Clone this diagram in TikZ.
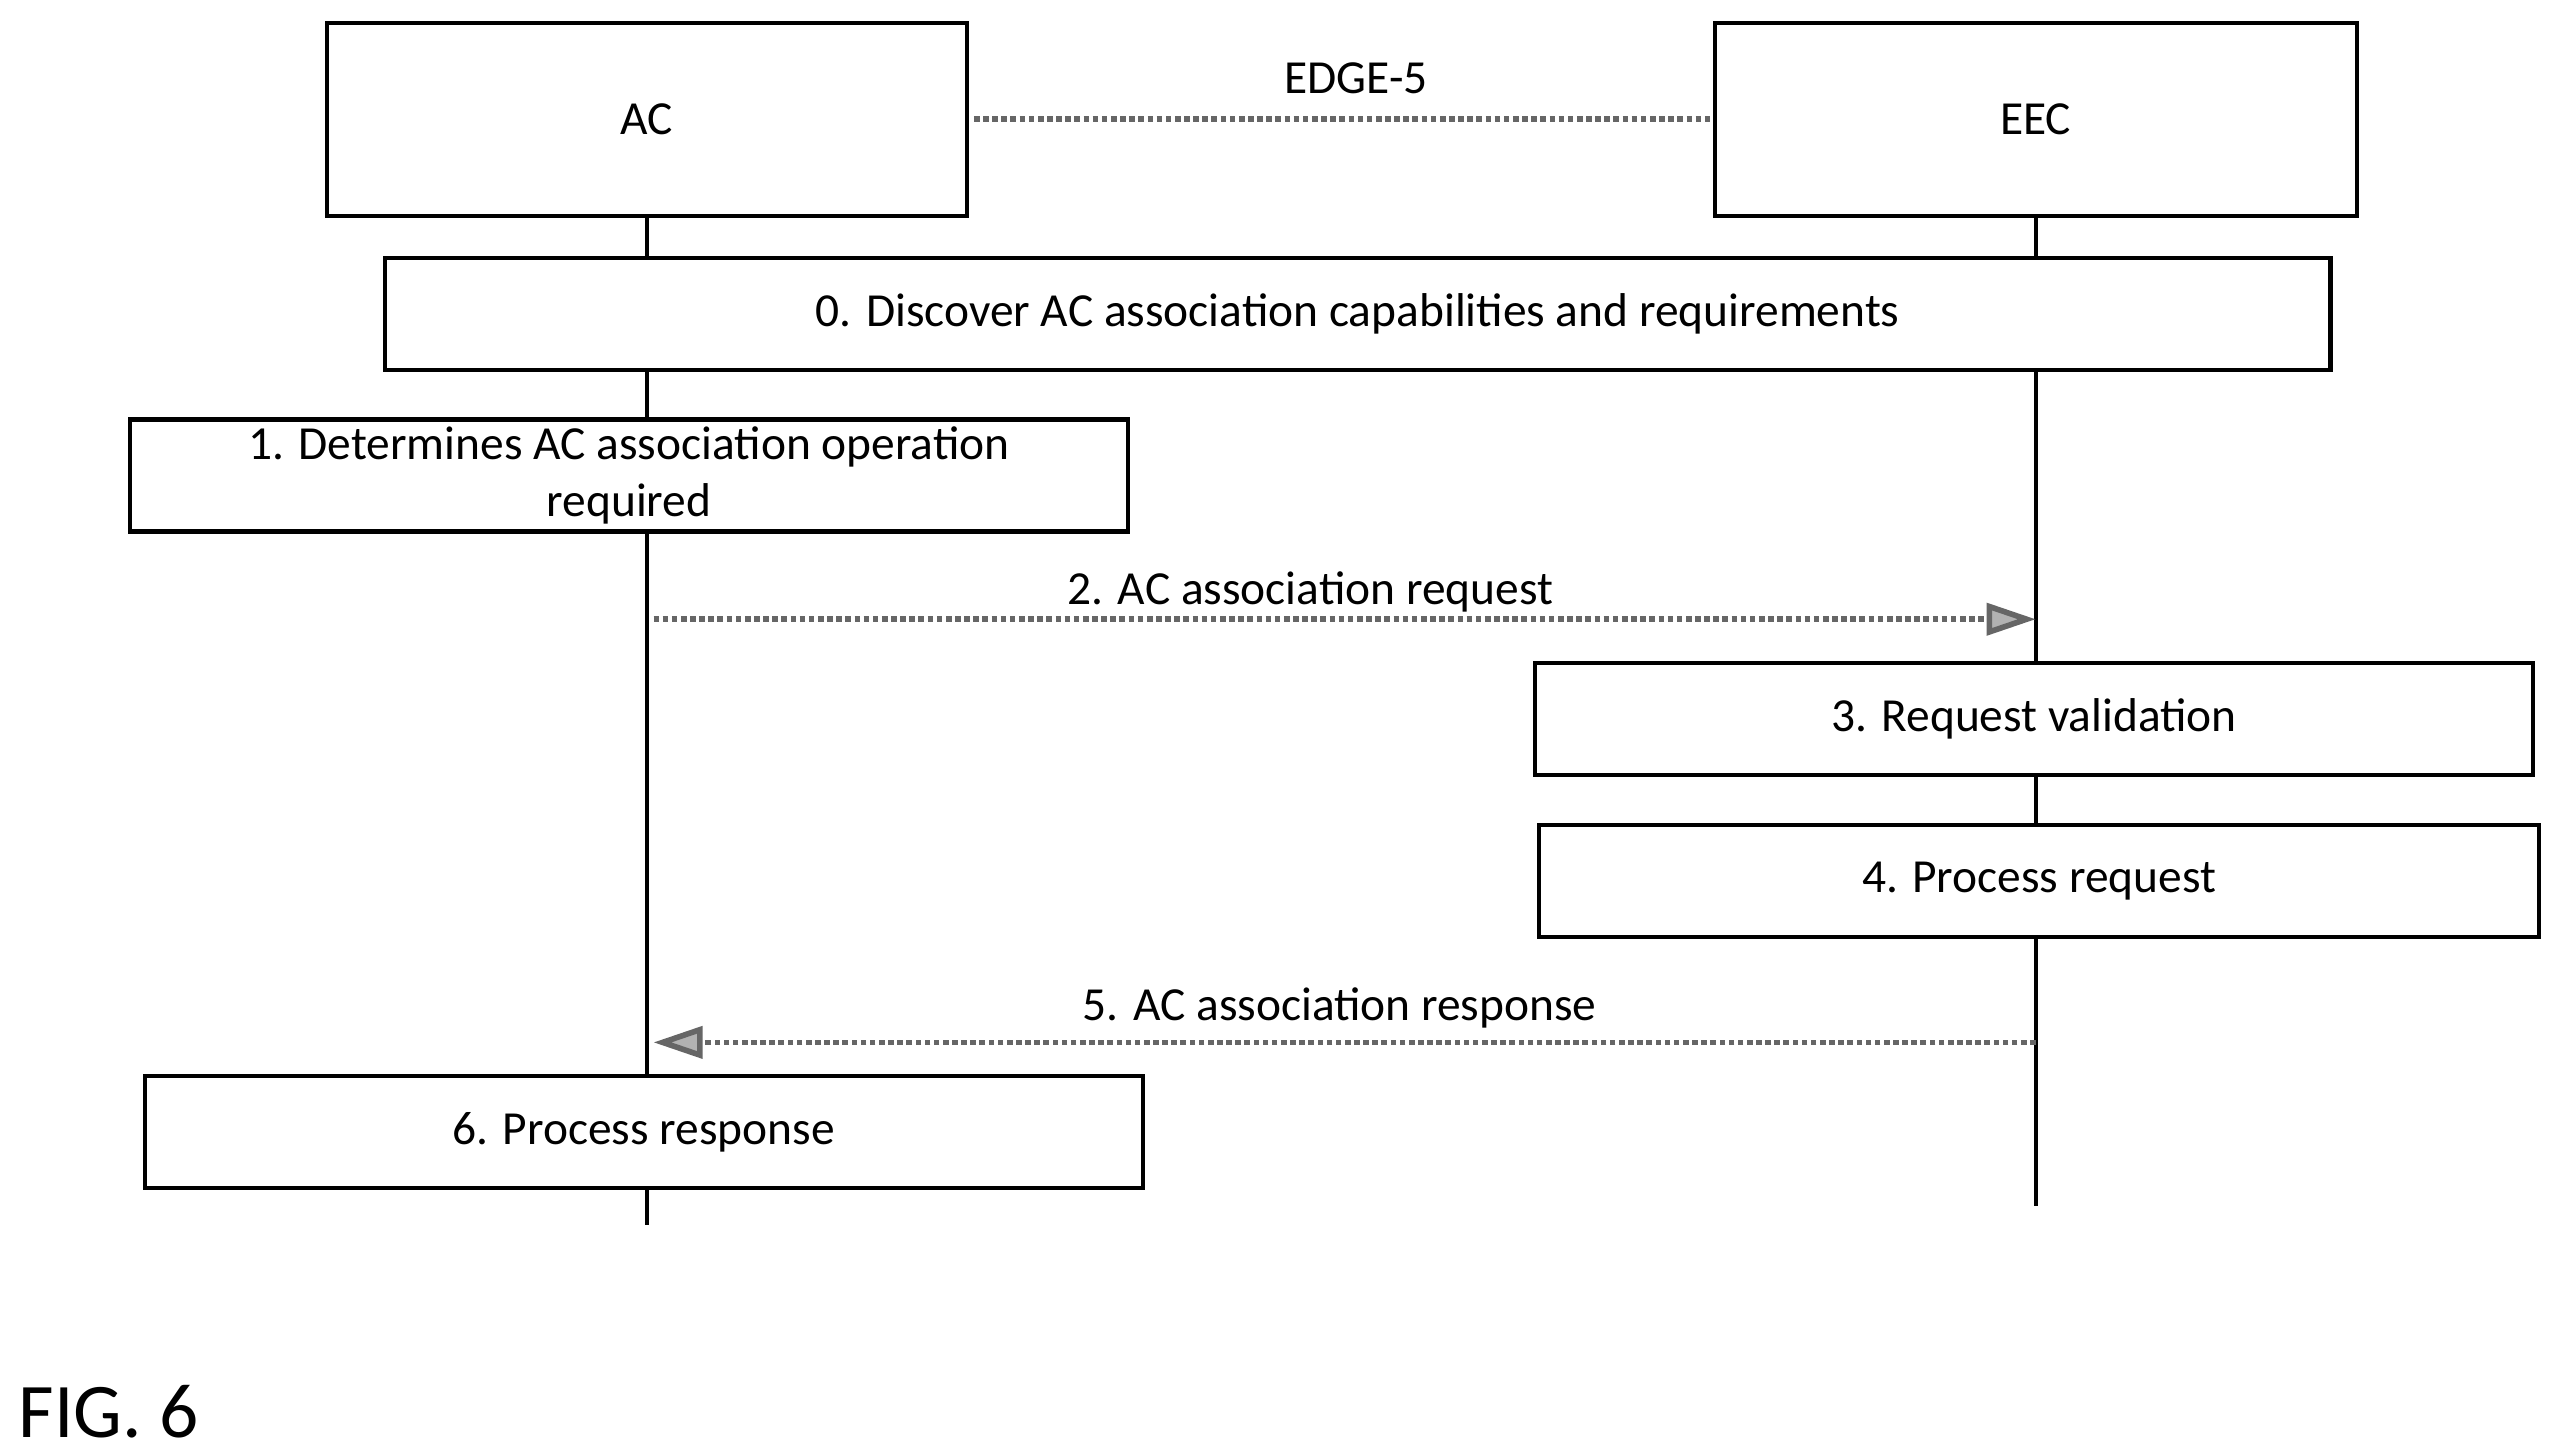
\documentclass[tikz,border=0pt]{standalone}
\usepackage{fontspec}
\setmainfont{Carlito}
\usetikzlibrary{arrows.meta}
\begin{document}
\begin{tikzpicture}[x=0.01634cm,y=-0.01634cm,
    box/.style={draw,line width=1.2pt,minimum height=1.12cm,inner sep=0pt,font=\fontsize{13.5pt}{16pt}\selectfont,align=center},
    msg/.style={gray!80!black,line width=1.6pt,densely dotted,-{Triangle[width=9pt,length=14pt,fill=gray!60]}},
    life/.style={line width=1.2pt},
    lbl/.style={font=\fontsize{13.5pt}{16pt}\selectfont}]
  \useasboundingbox (0,0) rectangle (1562,891);
  % entities
  \node[box,minimum width=392\pgflinewidth,minimum width=6.4cm,minimum height=1.93cm] (ac) at (396,73) {AC};
  \node[box,minimum width=6.42cm,minimum height=1.93cm] (eec) at (1246,73) {EEC};
  \draw[gray!80!black,line width=1.6pt,densely dotted] (ac.east) ++(3,0) coordinate (e5a) -- (eec.west);
  \node[lbl] (edge) at (830,48) {EDGE-5};
  % lifelines
  \coordinate (acend) at (396,750);
  \coordinate (eecend) at (1246,738);
  \draw[life] (ac.south) -- (acend);
  \draw[life] (eec.south) -- (eecend);
  % steps
  \node[box,fill=white,minimum width=19.46cm] (s0) at (831,192) {0. Discover AC association capabilities and requirements};
  \node[box,fill=white,minimum width=9.98cm] (s1) at (385,291) {1. Determines AC association operation\\required};
  \coordinate (a2s) at (400,379);
  \coordinate (a2e) at (1246,379);
  \draw[msg] (a2s) -- (a2e);
  \node[lbl] (l2) at (802,362) {2. AC association request};
  \node[box,fill=white,minimum width=9.98cm] (s3) at (1245,440) {3. Request validation};
  \node[box,fill=white,minimum width=10cm] (s4) at (1248,539) {4. Process request};
  \coordinate (a5s) at (1246,638);
  \coordinate (a5e) at (400,638);
  \draw[msg] (a5s) -- (a5e);
  \node[lbl] (l5) at (820,617) {5. AC association response};
  \node[box,fill=white,minimum width=9.98cm] (s6) at (394,693) {6. Process response};
  \node[anchor=west,font=\fontsize{22pt}{26pt}\selectfont] (fig) at (4,864) {FIG. 6};
\end{tikzpicture}
\end{document}
